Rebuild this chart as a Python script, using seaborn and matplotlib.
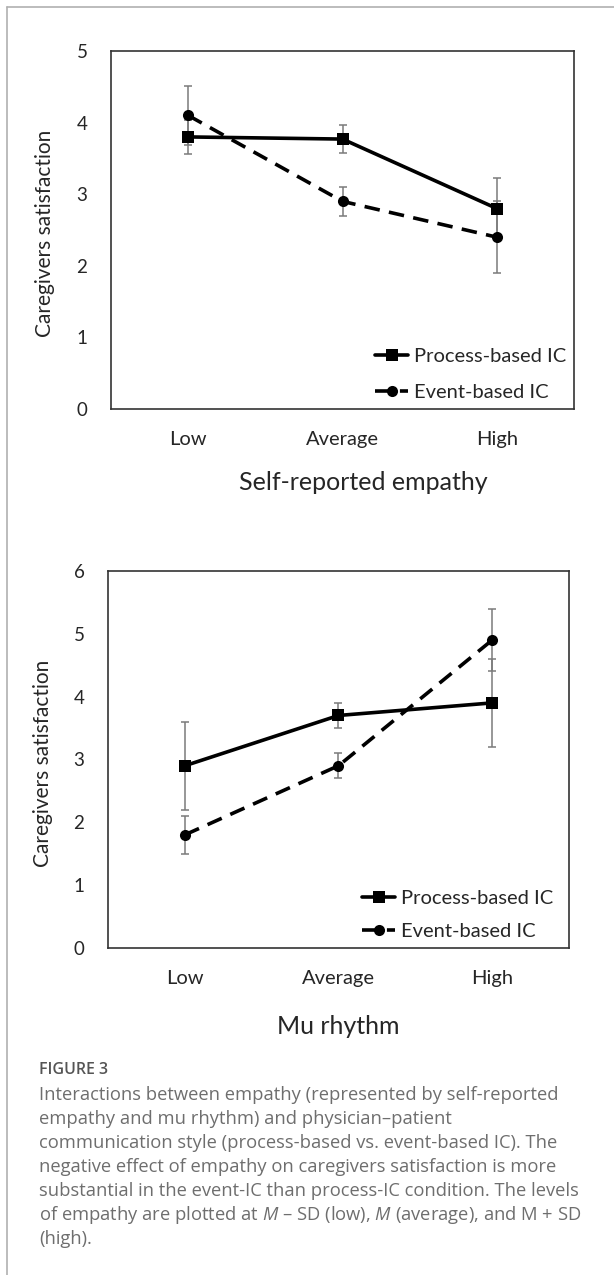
import numpy as np
import pandas as pd
import seaborn as sns
import matplotlib.pyplot as plt
from matplotlib.lines import Line2D

levels = ['Low', 'Average', 'High']
conditions = ['Process-based IC', 'Event-based IC']

# self-reported empathy panel
emp_process = [3.8, 3.77, 2.8]
emp_process_sd = [0.24, 0.2, 0.43]
emp_event = [4.1, 2.9, 2.4]
emp_event_sd = [0.41, 0.2, 0.5]

# mu rhythm panel
mu_process = [2.9, 3.7, 3.9]
mu_process_sd = [0.7, 0.2, 0.7]
mu_event = [1.8, 2.9, 4.9]
mu_event_sd = [0.3, 0.2, 0.5]

caption_title = 'FIGURE 3'
caption_lines = [
    'Interactions between empathy (represented by self-reported',
    'empathy and mu rhythm) and physician\u2013patient',
    'communication style (process-based vs. event-based IC). The',
    'negative effect of empathy on caregivers satisfaction is more',
    'substantial in the event-IC than process-IC condition. The levels',
    'of empathy are plotted at $M$ \u2013 SD (low), $M$ (average), and M + SD',
    '(high).',
]

sns.set_style('white')
plt.rcParams['font.family'] = ['Lato', 'DejaVu Sans']
plt.rcParams['mathtext.fontset'] = 'custom'
plt.rcParams['mathtext.it'] = 'Open Sans:italic'
plt.rcParams['mathtext.rm'] = 'Open Sans'

styles = {'Process-based IC': ('s', ''), 'Event-based IC': ('o', (4.3, 2.6))}
LW = 2.6


def panel(ax, process, process_sd, event, event_sd, ymax, xlabel, leg_anchor, leg_space):
    pos = np.arange(len(levels))
    df = pd.DataFrame({
        'pos': np.concatenate([pos, pos]),
        'value': process + event,
        'cond': [conditions[0]] * 3 + [conditions[1]] * 3,
    })
    # error bars under the lines
    ax.errorbar(pos, process, yerr=process_sd, fmt='none', ecolor='#7a7a7a',
                elinewidth=1.1, capsize=3, capthick=1.1, zorder=1)
    ax.errorbar(pos, event, yerr=event_sd, fmt='none', ecolor='#7a7a7a',
                elinewidth=1.1, capsize=3, capthick=1.1, zorder=1)
    sns.lineplot(data=df, x='pos', y='value', style='cond', style_order=conditions,
                 markers={c: styles[c][0] for c in conditions},
                 dashes={c: styles[c][1] for c in conditions},
                 color='black', lw=LW, markersize=8, markeredgewidth=0,
                 legend=False, ax=ax, zorder=3)

    ax.set_xlim(-0.5, 2.5)
    ax.set_ylim(0, ymax)
    ax.set_yticks(range(ymax + 1))
    ax.set_xticks(pos)
    ax.set_xticklabels(levels)
    ax.tick_params(axis='y', length=0, pad=17, labelsize=13.5)
    ax.tick_params(axis='x', length=0, pad=16, labelsize=14.5)
    for s in ax.spines.values():
        s.set_color('#333333')
        s.set_linewidth(1.2)
    ax.set_xlabel(xlabel, fontsize=18)
    ax.set_ylabel('Caregivers satisfaction', fontsize=15)
    ax.yaxis.set_label_coords(-0.12, 0.49)

    handles = [Line2D([], [], color='black', lw=LW, marker=styles[c][0], markersize=8,
                      markeredgewidth=0,
                      linestyle='-' if styles[c][1] == '' else (0, styles[c][1]))
               for c in conditions]
    ax.legend(handles, conditions, loc='lower right', bbox_to_anchor=leg_anchor,
              frameon=False, fontsize=14.5, handlelength=1.6, handletextpad=0.3,
              labelspacing=leg_space, borderaxespad=0)


fig = plt.figure(figsize=(6.14, 12.75), dpi=100)
ax1 = fig.add_axes([0.1808, 0.6792, 0.7541, 0.2808])
ax2 = fig.add_axes([0.1759, 0.2565, 0.7508, 0.2957])

panel(ax1, emp_process, emp_process_sd, emp_event, emp_event_sd, 5,
      'Self-reported empathy', (1.0, 0.0), 0.93)
ax1.xaxis.set_label_coords(0.545, -0.173)
panel(ax2, mu_process, mu_process_sd, mu_event, mu_event_sd, 6,
      'Mu rhythm', (0.9826, 0.0), 0.79)
ax2.xaxis.set_label_coords(0.5, -0.177)

# page frame
fig.add_artist(Line2D([7 / 614, 7 / 614], [0, 1 - 7 / 1275], color='#b0b0b0', lw=1.2))
fig.add_artist(Line2D([7 / 614, 1], [1 - 7 / 1275, 1 - 7 / 1275], color='#b0b0b0', lw=1.2))

fig.text(39 / 614, 1 - 1070 / 1275, caption_title, fontsize=11.5, color='#555555',
         family=['Open Sans', 'DejaVu Sans'], fontweight='semibold', va='center')
for i, line in enumerate(caption_lines):
    fig.text(39 / 614, 1 - (1095 + 24 * i) / 1275, line, fontsize=13.2, color='#6e6e6e',
             family=['Open Sans', 'DejaVu Sans'], va='center')

fig.savefig('out.png', dpi=100)
